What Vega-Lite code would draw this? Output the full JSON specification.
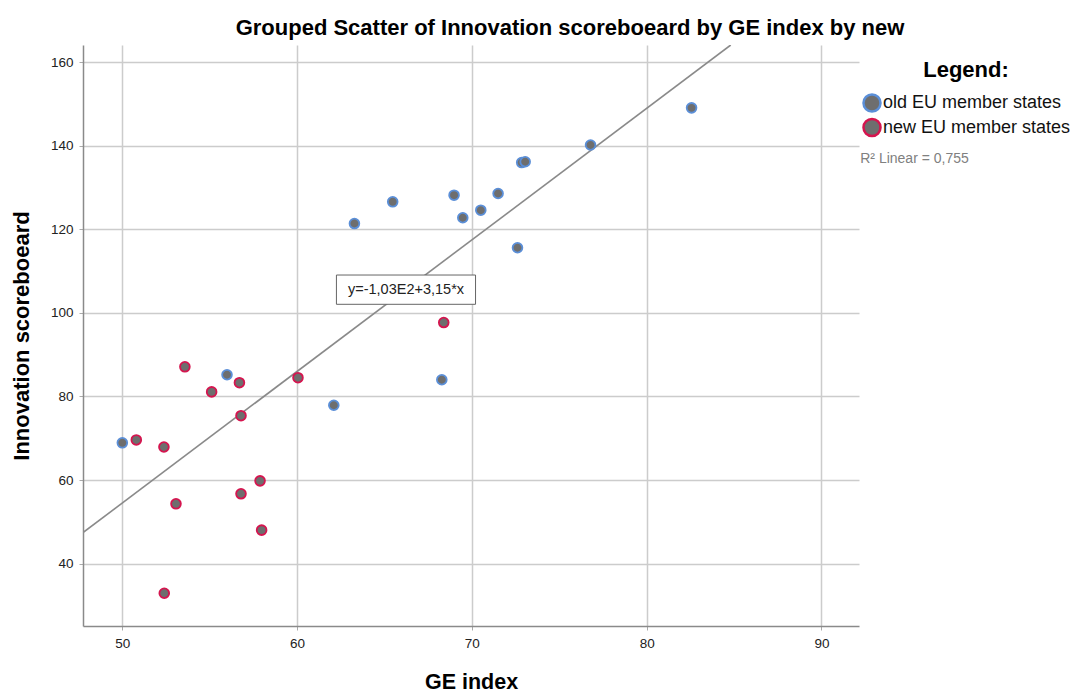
{
  "$schema": "https://vega.github.io/schema/vega-lite/v6.json",
  "width": 776,
  "height": 581,
  "autosize": {"type": "none"},
  "padding": {"left": 83, "top": 45, "right": 212, "bottom": 68},
  "background": "white",
  "config": {"font": "Liberation Sans", "view": {"stroke": null}},
  "title": {"text": "Grouped Scatter of Innovation scoreboeard by GE index by new", "fontSize": 22, "fontWeight": "bold", "color": "#000000", "anchor": "middle", "dx": 99, "offset": 5},
  "datasets": {
    "points": [
      {"ge": 50.0, "innovation": 68.9, "group": "old EU member states"},
      {"ge": 55.99, "innovation": 85.2, "group": "old EU member states"},
      {"ge": 62.1, "innovation": 77.9, "group": "old EU member states"},
      {"ge": 63.28, "innovation": 121.4, "group": "old EU member states"},
      {"ge": 65.47, "innovation": 126.6, "group": "old EU member states"},
      {"ge": 68.28, "innovation": 84.0, "group": "old EU member states"},
      {"ge": 68.98, "innovation": 128.2, "group": "old EU member states"},
      {"ge": 69.48, "innovation": 122.8, "group": "old EU member states"},
      {"ge": 70.51, "innovation": 124.6, "group": "old EU member states"},
      {"ge": 71.5, "innovation": 128.6, "group": "old EU member states"},
      {"ge": 72.61, "innovation": 115.6, "group": "old EU member states"},
      {"ge": 72.85, "innovation": 136.0, "group": "old EU member states"},
      {"ge": 73.05, "innovation": 136.2, "group": "old EU member states"},
      {"ge": 76.79, "innovation": 140.2, "group": "old EU member states"},
      {"ge": 82.57, "innovation": 149.1, "group": "old EU member states"},
      {"ge": 50.8, "innovation": 69.6, "group": "new EU member states"},
      {"ge": 52.38, "innovation": 67.9, "group": "new EU member states"},
      {"ge": 52.4, "innovation": 32.9, "group": "new EU member states"},
      {"ge": 53.07, "innovation": 54.3, "group": "new EU member states"},
      {"ge": 53.58, "innovation": 87.1, "group": "new EU member states"},
      {"ge": 55.11, "innovation": 81.1, "group": "new EU member states"},
      {"ge": 56.7, "innovation": 83.3, "group": "new EU member states"},
      {"ge": 56.79, "innovation": 75.4, "group": "new EU member states"},
      {"ge": 56.79, "innovation": 56.7, "group": "new EU member states"},
      {"ge": 57.88, "innovation": 59.8, "group": "new EU member states"},
      {"ge": 57.97, "innovation": 48.0, "group": "new EU member states"},
      {"ge": 60.05, "innovation": 84.5, "group": "new EU member states"},
      {"ge": 68.39, "innovation": 97.7, "group": "new EU member states"}
    ],
    "fit": [
      {"ge": 47.75, "innovation": 47.41},
      {"ge": 84.81, "innovation": 164.15}
    ],
    "eq": [
      {"x1": 62.25, "x2": 70.21, "y1": 109.08, "y2": 102.07, "xc": 66.23, "yc": 105.5, "label": "y=-1,03E2+3,15*x"}
    ],
    "r2": [
      {"ge": 92.22, "innovation": 136.8, "label": "R² Linear = 0,755"}
    ]
  },
  "layer": [
    {
      "data": {"name": "fit"},
      "mark": {"type": "line", "color": "#8a8a8a", "strokeWidth": 1.6, "clip": true},
      "encoding": {
        "x": {"field": "ge", "type": "quantitative", "scale": {"domain": [47.75, 92.15], "nice": false, "zero": false},
          "axis": {"values": [50, 60, 70, 80, 90], "title": "GE index", "titleFontSize": 21.5, "titleFontWeight": "bold", "titleColor": "#000000", "titlePadding": 22,
            "labelFontSize": 13.5, "labelColor": "#222222", "labelPadding": 6, "grid": true, "gridColor": "#cccccc", "gridWidth": 1.5,
            "domainColor": "#8a8a8a", "domainWidth": 1.5, "tickColor": "#aaaaaa", "tickSize": 4}},
        "y": {"field": "innovation", "type": "quantitative", "scale": {"domain": [25.05, 164.15], "nice": false, "zero": false},
          "axis": {"values": [40, 60, 80, 100, 120, 140, 160], "title": "Innovation scoreboeard", "titleFontSize": 22, "titleFontWeight": "bold", "titleColor": "#000000", "titlePadding": 17,
            "labelFontSize": 13.5, "labelColor": "#222222", "labelPadding": 6, "grid": true, "gridColor": "#cccccc", "gridWidth": 1.5,
            "domainColor": "#8a8a8a", "domainWidth": 1.5, "tickColor": "#aaaaaa", "tickSize": 4}}
      }
    },
    {
      "data": {"name": "eq"},
      "mark": {"type": "rect", "fill": "white", "stroke": "#666666", "strokeWidth": 1},
      "encoding": {
        "x": {"field": "x1", "type": "quantitative"},
        "x2": {"field": "x2"},
        "y": {"field": "y1", "type": "quantitative"},
        "y2": {"field": "y2"}
      }
    },
    {
      "data": {"name": "eq"},
      "mark": {"type": "text", "fontSize": 14.5, "color": "#222222", "align": "center", "baseline": "middle"},
      "encoding": {
        "x": {"field": "xc", "type": "quantitative"},
        "y": {"field": "yc", "type": "quantitative"},
        "text": {"field": "label"}
      }
    },
    {
      "data": {"name": "points"},
      "mark": {"type": "circle", "size": 95, "fill": "#6e6e6e", "opacity": 1, "strokeWidth": 1.8},
      "encoding": {
        "x": {"field": "ge", "type": "quantitative"},
        "y": {"field": "innovation", "type": "quantitative"},
        "stroke": {"field": "group", "type": "nominal",
          "scale": {"domain": ["old EU member states", "new EU member states"], "range": ["#5b8fd8", "#d5154f"]},
          "legend": {"title": "Legend:", "orient": "none", "legendX": 779, "legendY": 15, "titleFontSize": 22, "titleFontWeight": "bold", "titleColor": "#000000",
            "titleAnchor": "middle", "titlePadding": 11, "labelFontSize": 18, "labelColor": "#111111", "labelOffset": 1, "labelLimit": 0,
            "symbolType": "circle", "symbolSize": 290, "symbolFillColor": "#6e6e6e", "symbolStrokeWidth": 2.5, "symbolOpacity": 1, "rowPadding": -3.5}}
      }
    },
    {
      "data": {"name": "r2"},
      "mark": {"type": "text", "fontSize": 14, "color": "#808080", "align": "left", "baseline": "middle"},
      "encoding": {
        "x": {"field": "ge", "type": "quantitative"},
        "y": {"field": "innovation", "type": "quantitative"},
        "text": {"field": "label"}
      }
    }
  ]
}
